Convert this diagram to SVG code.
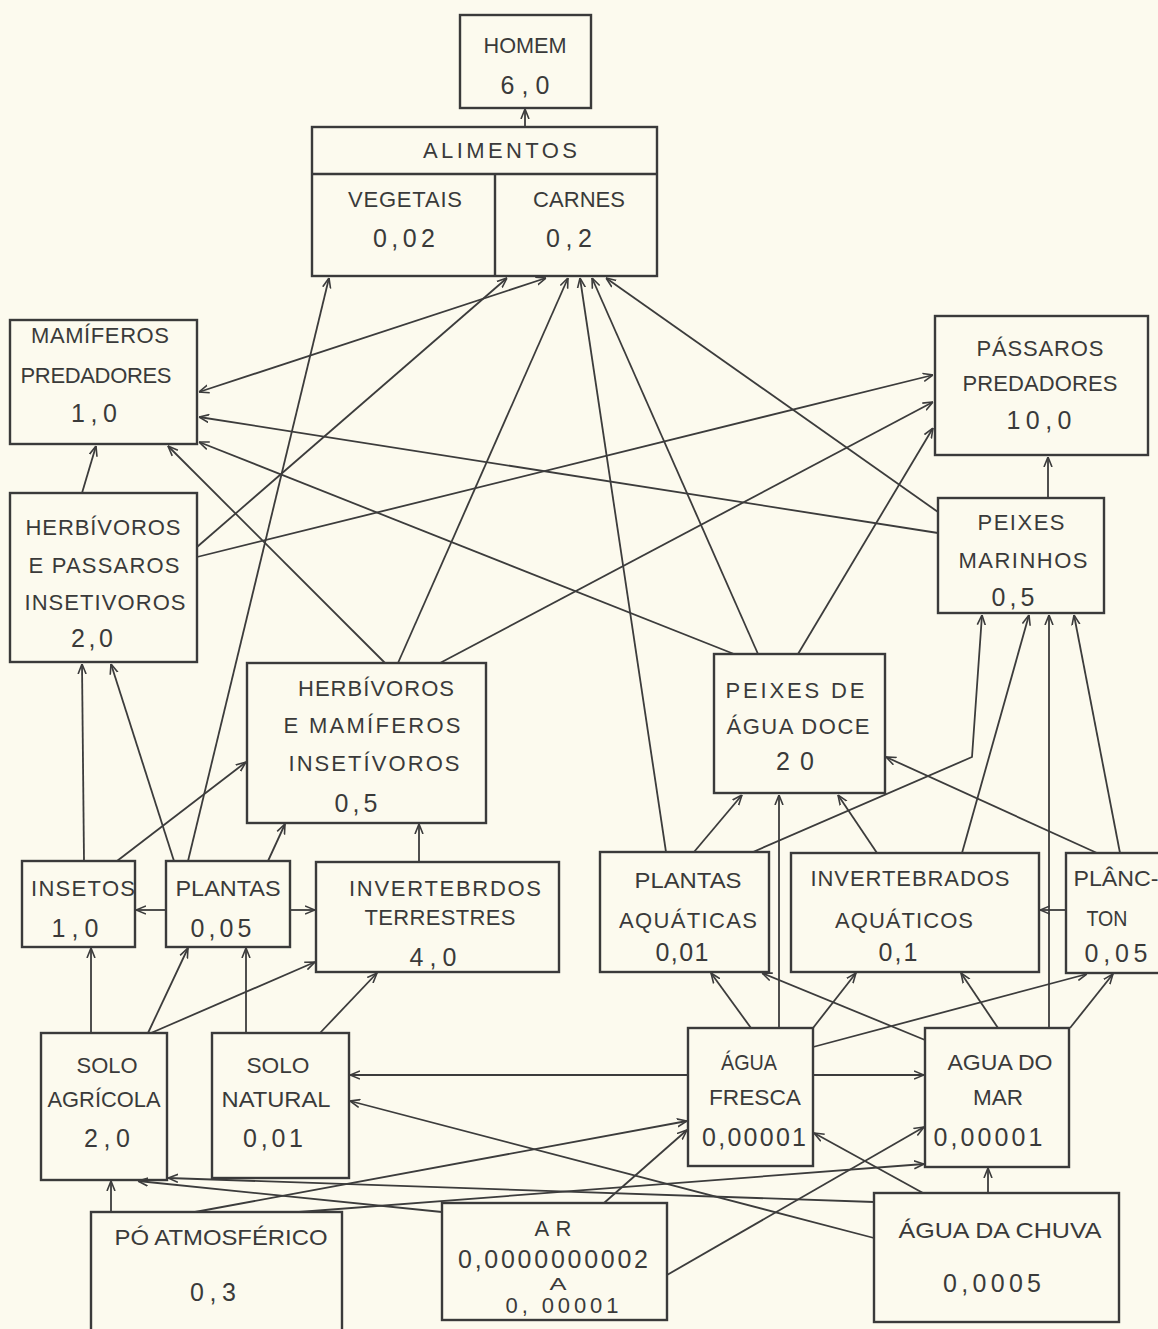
<svg xmlns="http://www.w3.org/2000/svg" width="1158" height="1329" viewBox="0 0 1158 1329">
<defs>
<style>
.bg{fill:#fcfaee}
.box{fill:none;stroke:#3a3a3a;stroke-width:2.4}
.t{font-family:"Liberation Sans",Arial,sans-serif;font-size:22px;fill:#3a3a3a;text-anchor:middle}
.n{font-family:"Liberation Sans",Arial,sans-serif;font-size:25px;fill:#3a3a3a;text-anchor:middle}
.c line,.c polyline{stroke:#3c3c3c;stroke-width:1.8;fill:none;marker-end:url(#a)}
</style>
<marker id="a" viewBox="0 0 10 10" refX="10" refY="5" markerWidth="10" markerHeight="10" markerUnits="userSpaceOnUse" orient="auto-start-reverse">
<path d="M0,1 L10,5 L0,9" fill="none" stroke="#3c3c3c" stroke-width="1.6"/>
</marker>
</defs>
<rect class="bg" x="0" y="0" width="1158" height="1329"/>

<g id="homem"><rect class="box" x="460" y="15" width="131" height="93"/>
<text class="t" x="525" y="53" textLength="83" lengthAdjust="spacingAndGlyphs">HOMEM</text>
<text class="n" x="525" y="94" textLength="49" lengthAdjust="spacing">6,0</text></g>

<g id="alimentos"><rect class="box" x="312" y="127" width="345" height="149"/>
<line class="box" x1="312" y1="174" x2="657" y2="174"/><line class="box" x1="495" y1="174" x2="495" y2="276"/>
<text class="t" x="500" y="158" textLength="154" lengthAdjust="spacing">ALIMENTOS</text>
<text class="t" x="405" y="207" textLength="114" lengthAdjust="spacing">VEGETAIS</text>
<text class="n" x="404" y="247" textLength="62" lengthAdjust="spacing">0,02</text>
<text class="t" x="579" y="207" textLength="92" lengthAdjust="spacing">CARNES</text>
<text class="n" x="569" y="247" textLength="46" lengthAdjust="spacing">0,2</text></g>

<g id="mamiferos-predadores"><rect class="box" x="10" y="320" width="187" height="124"/>
<text class="t" x="100" y="343" textLength="138" lengthAdjust="spacing">MAMÍFEROS</text>
<text class="t" x="96" y="383" textLength="151" lengthAdjust="spacing">PREDADORES</text>
<text class="n" x="94" y="422" textLength="46" lengthAdjust="spacing">1,0</text></g>

<g id="passaros-predadores"><rect class="box" x="935" y="316" width="213" height="139"/>
<text class="t" x="1040" y="356" textLength="127" lengthAdjust="spacing">PÁSSAROS</text>
<text class="t" x="1040" y="391" textLength="155" lengthAdjust="spacing">PREDADORES</text>
<text class="n" x="1039" y="429" textLength="65" lengthAdjust="spacing">10,0</text></g>

<g id="herbivoros-passaros"><rect class="box" x="10" y="493" width="187" height="169"/>
<text class="t" x="103" y="535" textLength="155" lengthAdjust="spacing">HERBÍVOROS</text>
<text class="t" x="104" y="573" textLength="151" lengthAdjust="spacing">E PASSAROS</text>
<text class="t" x="105" y="610" textLength="161" lengthAdjust="spacing">INSETIVOROS</text>
<text class="n" x="92" y="647" textLength="42" lengthAdjust="spacing">2,0</text></g>

<g id="peixes-marinhos"><rect class="box" x="938" y="498" width="166" height="115"/>
<text class="t" x="1021" y="530" textLength="87" lengthAdjust="spacing">PEIXES</text>
<text class="t" x="1023" y="568" textLength="129" lengthAdjust="spacing">MARINHOS</text>
<text class="n" x="1013" y="606" textLength="43" lengthAdjust="spacing">0,5</text></g>

<g id="herbivoros-mamiferos"><rect class="box" x="247" y="663" width="239" height="160"/>
<text class="t" x="376" y="696" textLength="156" lengthAdjust="spacing">HERBÍVOROS</text>
<text class="t" x="372" y="733" textLength="177" lengthAdjust="spacing">E MAMÍFEROS</text>
<text class="t" x="374" y="771" textLength="171" lengthAdjust="spacing">INSETÍVOROS</text>
<text class="n" x="356" y="812" textLength="43" lengthAdjust="spacing">0,5</text></g>

<g id="peixes-agua-doce"><rect class="box" x="714" y="654" width="171" height="139"/>
<text class="t" x="795" y="698" textLength="139" lengthAdjust="spacing">PEIXES DE</text>
<text class="t" x="798" y="734" textLength="143" lengthAdjust="spacing">ÁGUA DOCE</text>
<text class="n" x="795" y="770" textLength="38" lengthAdjust="spacing">2 0</text></g>

<g id="insetos"><rect class="box" x="22" y="861" width="113" height="86"/>
<text class="t" x="83" y="896" textLength="104" lengthAdjust="spacing">INSETOS</text>
<text class="n" x="75" y="937" textLength="47" lengthAdjust="spacing">1,0</text></g>

<g id="plantas"><rect class="box" x="166" y="861" width="124" height="86"/>
<text class="t" x="228" y="896" textLength="105" lengthAdjust="spacingAndGlyphs">PLANTAS</text>
<text class="n" x="221" y="937" textLength="61" lengthAdjust="spacing">0,05</text></g>

<g id="invertebrados-terrestres"><rect class="box" x="316" y="862" width="243" height="110"/>
<text class="t" x="445" y="896" textLength="192" lengthAdjust="spacing">INVERTEBRDOS</text>
<text class="t" x="440" y="925" textLength="151" lengthAdjust="spacing">TERRESTRES</text>
<text class="n" x="433" y="966" textLength="47" lengthAdjust="spacing">4,0</text></g>

<g id="plantas-aquaticas"><rect class="box" x="600" y="852" width="169" height="120"/>
<text class="t" x="688" y="888" textLength="107" lengthAdjust="spacingAndGlyphs">PLANTAS</text>
<text class="t" x="688" y="928" textLength="138" lengthAdjust="spacing">AQUÁTICAS</text>
<text class="n" x="682" y="961" textLength="53" lengthAdjust="spacing">0,01</text></g>

<g id="invertebrados-aquaticos"><rect class="box" x="791" y="853" width="248" height="119"/>
<text class="t" x="910" y="886" textLength="199" lengthAdjust="spacing">INVERTEBRADOS</text>
<text class="t" x="904" y="928" textLength="138" lengthAdjust="spacing">AQUÁTICOS</text>
<text class="n" x="898" y="961" textLength="39" lengthAdjust="spacing">0,1</text></g>

<g id="plancton"><rect class="box" x="1066" y="853" width="110" height="120"/>
<text class="t" x="1116" y="886" textLength="85" lengthAdjust="spacingAndGlyphs">PLÂNC-</text>
<text class="t" x="1107" y="926" textLength="41" lengthAdjust="spacingAndGlyphs">TON</text>
<text class="n" x="1116" y="962" textLength="63" lengthAdjust="spacing">0,05</text></g>

<g id="solo-agricola"><rect class="box" x="41" y="1033" width="126" height="147"/>
<text class="t" x="107" y="1073" textLength="61" lengthAdjust="spacingAndGlyphs">SOLO</text>
<text class="t" x="104" y="1107" textLength="113" lengthAdjust="spacingAndGlyphs">AGRÍCOLA</text>
<text class="n" x="107" y="1147" textLength="46" lengthAdjust="spacing">2,0</text></g>

<g id="solo-natural"><rect class="box" x="212" y="1033" width="137" height="145"/>
<text class="t" x="278" y="1073" textLength="63" lengthAdjust="spacingAndGlyphs">SOLO</text>
<text class="t" x="276" y="1107" textLength="109" lengthAdjust="spacingAndGlyphs">NATURAL</text>
<text class="n" x="273" y="1147" textLength="60" lengthAdjust="spacing">0,01</text></g>

<g id="agua-fresca"><rect class="box" x="688" y="1028" width="125" height="138"/>
<text class="t" x="749" y="1070" textLength="56" lengthAdjust="spacingAndGlyphs">ÁGUA</text>
<text class="t" x="755" y="1105" textLength="92" lengthAdjust="spacingAndGlyphs">FRESCA</text>
<text class="n" x="754" y="1146" textLength="104" lengthAdjust="spacing">0,00001</text></g>

<g id="agua-do-mar"><rect class="box" x="925" y="1028" width="144" height="139"/>
<text class="t" x="1000" y="1070" textLength="105" lengthAdjust="spacingAndGlyphs">AGUA DO</text>
<text class="t" x="998" y="1105" textLength="50" lengthAdjust="spacingAndGlyphs">MAR</text>
<text class="n" x="988" y="1146" textLength="109" lengthAdjust="spacing">0,00001</text></g>

<g id="po-atmosferico"><rect class="box" x="91" y="1212" width="251" height="130"/>
<text class="t" x="221" y="1245" textLength="213" lengthAdjust="spacingAndGlyphs">PÓ ATMOSFÉRICO</text>
<text class="n" x="213" y="1301" textLength="46" lengthAdjust="spacing">0,3</text></g>

<g id="ar"><rect class="box" x="442" y="1203" width="225" height="117"/>
<text class="t" x="553" y="1236" textLength="37" lengthAdjust="spacing">AR</text>
<text class="n" x="553" y="1268" textLength="190" lengthAdjust="spacing">0,0000000002</text>
<text class="n" x="558" y="1290" style="font-size:17px" textLength="17" lengthAdjust="spacingAndGlyphs">A</text>
<text class="n" x="562" y="1313" style="font-size:22px" textLength="113" lengthAdjust="spacing">0, 00001</text></g>

<g id="agua-da-chuva"><rect class="box" x="874" y="1193" width="245" height="129"/>
<text class="t" x="1000" y="1238" textLength="203" lengthAdjust="spacingAndGlyphs">ÁGUA DA CHUVA</text>
<text class="n" x="992" y="1292" textLength="98" lengthAdjust="spacing">0,0005</text></g>

<g id="connectors" class="c">
<line x1="525" y1="127" x2="525" y2="109"/>
<line x1="188" y1="861" x2="329" y2="278"/>
<line x1="197" y1="547" x2="507" y2="278"/>
<line x1="199" y1="392" x2="546" y2="278" marker-start="url(#a)"/>
<line x1="398" y1="663" x2="568" y2="278"/>
<line x1="666" y1="852" x2="580" y2="278"/>
<line x1="758" y1="654" x2="592" y2="278"/>
<line x1="938" y1="512" x2="606" y2="278"/>
<line x1="938" y1="533" x2="199" y2="417"/>
<line x1="734" y1="654" x2="199" y2="442"/>
<line x1="385" y1="663" x2="168" y2="446"/>
<line x1="82" y1="493" x2="96" y2="446"/>
<line x1="197" y1="557" x2="933" y2="375"/>
<line x1="440" y1="663" x2="933" y2="402"/>
<line x1="798" y1="654" x2="933" y2="428"/>
<line x1="1048" y1="498" x2="1048" y2="457"/>
<polyline points="753,852 972,757 982,615"/>
<line x1="962" y1="853" x2="1029" y2="615"/>
<line x1="1049" y1="1028" x2="1049" y2="615"/>
<line x1="1120" y1="853" x2="1074" y2="615"/>
<line x1="1097" y1="853" x2="886" y2="757"/>
<line x1="1066" y1="910" x2="1040" y2="910"/>
<line x1="694" y1="852" x2="742" y2="795"/>
<line x1="779" y1="1028" x2="779" y2="795"/>
<line x1="877" y1="853" x2="838" y2="795"/>
<line x1="84" y1="861" x2="82" y2="664"/>
<line x1="174" y1="861" x2="111" y2="664"/>
<line x1="117" y1="861" x2="246" y2="762"/>
<line x1="268" y1="861" x2="285" y2="824"/>
<line x1="419" y1="862" x2="419" y2="824"/>
<line x1="166" y1="910" x2="136" y2="910"/>
<line x1="290" y1="910" x2="315" y2="910"/>
<line x1="91" y1="1033" x2="91" y2="948"/>
<line x1="148" y1="1033" x2="188" y2="948"/>
<line x1="246" y1="1033" x2="246" y2="948"/>
<line x1="151" y1="1033" x2="315" y2="962"/>
<line x1="320" y1="1033" x2="377" y2="973"/>
<line x1="688" y1="1075" x2="350" y2="1075"/>
<line x1="874" y1="1238" x2="350" y2="1101"/>
<line x1="111" y1="1212" x2="111" y2="1181"/>
<line x1="442" y1="1212" x2="138" y2="1181"/>
<line x1="874" y1="1202" x2="168" y2="1178"/>
<line x1="195" y1="1212" x2="687" y2="1121"/>
<line x1="299" y1="1212" x2="924" y2="1164"/>
<line x1="604" y1="1203" x2="687" y2="1130"/>
<line x1="667" y1="1275" x2="924" y2="1127"/>
<line x1="923" y1="1193" x2="814" y2="1133"/>
<line x1="988" y1="1193" x2="988" y2="1168"/>
<line x1="813" y1="1075" x2="924" y2="1075"/>
<line x1="813" y1="1047" x2="1087" y2="974"/>
<line x1="751" y1="1028" x2="711" y2="973"/>
<line x1="813" y1="1028" x2="856" y2="973"/>
<line x1="925" y1="1040" x2="762" y2="973"/>
<line x1="998" y1="1028" x2="961" y2="973"/>
<line x1="1070" y1="1028" x2="1113" y2="974"/>
</g>
</svg>
